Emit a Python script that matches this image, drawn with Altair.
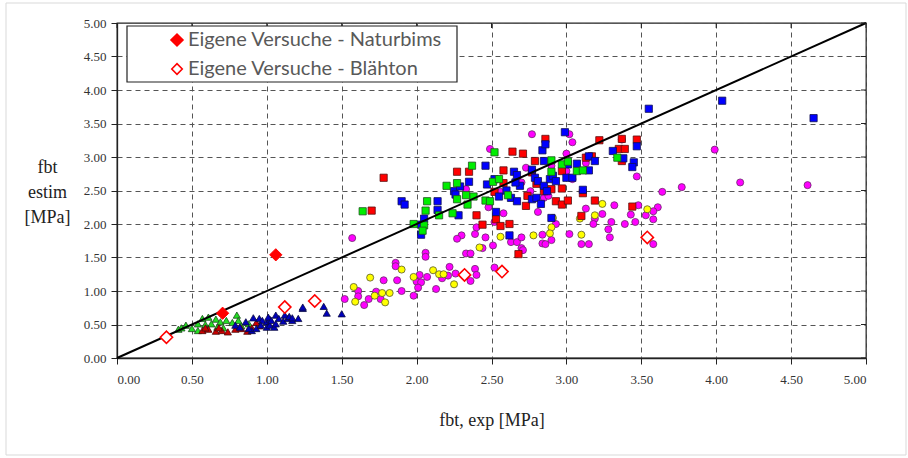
import altair as alt
import pandas as pd

# ---- Test series: fbt,exp (x) vs fbt,estim (y) in MPa ----
red_sq_x = [1.70, 1.78, 2.27, 2.35, 2.40, 2.44, 2.64, 2.71, 2.58, 2.58, 2.52, 2.53, 2.56, 2.62,
            2.74, 2.73, 2.77, 2.79, 2.80, 2.85, 2.86, 2.90, 2.97, 2.93, 2.97, 2.97, 2.68,
            3.22, 3.37, 3.35, 3.39, 3.47, 3.17, 3.13, 3.37, 3.11, 3.01, 3.19, 3.44, 3.10]
red_sq_y = [2.20, 2.69, 2.78, 2.78, 2.13, 1.99, 3.08, 3.05, 2.80, 2.61, 2.48, 2.07, 1.97, 2.00,
            2.42, 2.27, 2.77, 2.94, 2.60, 2.49, 3.27, 2.52, 2.53, 2.34, 2.29, 2.79, 1.55,
            3.25, 3.27, 3.12, 3.12, 3.26, 3.01, 2.99, 2.94, 2.46, 2.35, 2.35, 2.26, 2.12]

blue_sq_x = [1.90, 1.92, 2.05, 2.03, 2.14, 2.14, 2.25, 2.26, 2.29, 2.35, 2.28, 2.46, 2.47, 2.52,
             2.55, 2.53, 2.60, 2.63, 2.65, 2.67, 2.67, 2.69, 2.66, 2.77, 2.79, 2.77, 2.80, 2.83,
             2.84, 2.86, 2.85, 2.81, 2.85, 2.87, 2.89, 2.91, 2.93, 2.90, 2.03, 2.62,
             3.55, 4.04, 4.65, 2.99, 3.47, 3.31, 3.15, 3.19, 3.07, 3.01, 3.45, 3.44, 3.38,
             3.15, 3.00, 3.04, 3.11]
blue_sq_y = [2.34, 2.29, 2.08, 1.99, 2.34, 2.21, 2.49, 2.44, 2.56, 2.63, 2.13, 2.87, 2.59, 2.67,
             2.41, 2.18, 2.50, 2.39, 2.78, 2.73, 2.34, 2.57, 2.62, 2.81, 2.69, 2.37, 2.39, 2.30,
             3.10, 3.19, 2.94, 2.64, 2.57, 2.49, 2.67, 2.72, 2.64, 2.09, 1.84, 1.83,
             3.72, 3.84, 3.58, 3.37, 3.16, 3.09, 3.01, 2.94, 2.90, 2.89, 2.92, 2.85, 2.98,
             2.80, 2.69, 2.69, 2.51]

green_sq_x = [1.64, 1.98, 2.05, 2.06, 2.07, 2.15, 2.20, 2.24, 2.27, 2.27, 2.33, 2.34, 2.37, 2.38,
              2.46, 2.49, 2.51, 2.52, 2.55, 2.61, 2.90, 2.90, 2.97, 2.04,
              3.01, 3.07, 3.11, 3.34]
green_sq_y = [2.19, 2.00, 1.98, 2.20, 2.34, 2.13, 2.57, 2.16, 2.37, 2.61, 2.43, 2.29, 2.87, 2.41,
              2.35, 2.34, 2.63, 3.07, 2.67, 2.43, 2.95, 2.78, 2.89, 1.90,
              2.93, 2.79, 2.80, 2.99]

magenta_x = [2.77, 2.49, 2.90, 2.73, 2.70, 2.33, 2.48, 2.56, 2.76, 2.85, 2.88, 2.81, 2.58, 2.52,
             2.93, 1.57, 1.52, 1.86, 1.86, 1.78, 1.87, 1.61, 1.61, 1.73, 1.68, 1.76, 1.65, 1.90,
             1.98, 2.02, 2.00, 2.03, 2.01, 2.07, 2.06, 2.06, 2.13, 2.21, 2.22, 2.26, 2.17, 2.30,
             2.27, 2.39, 2.33, 2.36, 2.44, 2.39, 2.40, 2.36, 2.51, 2.52, 2.63, 2.67, 2.70, 2.70,
             2.71, 2.84, 2.86, 2.90, 2.46, 2.40, 2.84,
             3.02, 3.04, 3.37, 3.99, 3.00, 3.13, 3.00, 3.04, 3.47, 3.64, 3.77, 4.16, 4.61, 3.13,
             3.32, 3.48, 3.61, 3.58, 3.24, 3.19, 3.18, 3.43, 3.53, 3.58, 3.30, 3.39, 3.46, 3.28,
             3.02, 3.29, 3.10, 3.15, 3.58]
magenta_y = [3.34, 3.12, 2.87, 2.84, 2.62, 2.52, 2.25, 2.48, 2.49, 2.39, 2.42, 2.18, 2.16, 2.03,
             2.00, 1.79, 0.88, 1.42, 1.37, 1.16, 1.16, 1.00, 0.92, 0.99, 0.88, 0.88, 0.79, 1.00,
             0.93, 1.24, 1.14, 1.13, 1.05, 1.21, 1.57, 1.51, 1.03, 1.23, 1.36, 1.26, 1.19, 1.83,
             1.78, 1.85, 1.56, 1.56, 1.64, 1.33, 1.24, 1.15, 1.68, 1.35, 1.73, 1.73, 1.80, 1.64,
             1.61, 1.71, 1.70, 1.76, 1.80, 1.95, 1.84,
             3.34, 3.22, 3.26, 3.11, 3.05, 2.91, 2.79, 2.67, 2.71, 2.48, 2.55, 2.62, 2.58, 2.23,
             2.28, 2.28, 2.25, 2.19, 2.15, 2.08, 2.00, 2.14, 2.13, 2.07, 2.03, 2.00, 2.03, 1.92,
             1.85, 1.80, 1.70, 1.70, 1.70]

yellow_x = [2.91, 2.90, 1.69, 1.90, 1.58, 1.59, 1.72, 1.77, 1.82, 1.79, 1.98, 2.11, 2.15, 2.18,
            2.25, 2.56, 2.78, 2.89, 2.42, 3.24, 3.19, 3.09, 3.54, 3.10]
yellow_y = [2.09, 1.95, 1.20, 1.32, 1.06, 0.84, 0.93, 0.97, 0.97, 0.83, 1.21, 1.31, 1.25, 1.25,
            1.10, 1.81, 1.83, 1.86, 1.65, 2.30, 2.13, 2.08, 2.22, 1.84]

green_tri_x = [0.41, 0.43, 0.46, 0.57, 0.61, 0.66, 0.54, 0.59, 0.63, 0.69, 0.73, 0.80, 0.77, 0.54,
               0.60, 0.83, 0.88, 0.50, 0.67, 0.71, 0.81]
green_tri_y = [0.43, 0.45, 0.49, 0.59, 0.61, 0.58, 0.51, 0.50, 0.51, 0.54, 0.56, 0.64, 0.53, 0.41,
               0.44, 0.48, 0.51, 0.44, 0.46, 0.45, 0.56]

red_tri_x = [0.57, 0.61, 0.66, 0.70, 0.74, 0.79, 0.83, 0.68, 0.90, 0.95, 0.59, 0.87, 0.93]
red_tri_y = [0.41, 0.43, 0.40, 0.41, 0.39, 0.43, 0.44, 0.45, 0.45, 0.48, 0.45, 0.40, 0.53]

blue_tri_x = [0.79, 0.82, 0.86, 0.91, 0.90, 0.95, 0.97, 1.00, 1.02, 1.06, 1.08, 1.11, 1.14, 1.17,
              1.21, 1.24, 1.00, 1.02, 1.05, 0.93, 0.88, 0.96, 1.01, 1.03, 1.06, 1.12, 1.24, 1.38,
              1.40, 1.50, 1.15, 1.17]
blue_tri_y = [0.49, 0.46, 0.54, 0.60, 0.41, 0.59, 0.56, 0.54, 0.58, 0.64, 0.59, 0.55, 0.59, 0.56,
              0.59, 0.74, 0.46, 0.49, 0.46, 0.44, 0.44, 0.49, 0.61, 0.56, 0.51, 0.64, 0.76, 0.77,
              0.67, 0.66, 0.62, 0.60]

# Own tests
naturbims_x = [0.705, 1.06]
naturbims_y = [0.668, 1.54]
blaehton_x = [0.33, 1.12, 1.32, 2.32, 2.57, 3.54]
blaehton_y = [0.31, 0.76, 0.85, 1.24, 1.29, 1.80]

legend_labels = ["Eigene Versuche - Naturbims", "Eigene Versuche - Blähton"]
tick_values = [0.0, 0.5, 1.0, 1.5, 2.0, 2.5, 3.0, 3.5, 4.0, 4.5, 5.0]
line_x = [0.0, 5.0]
line_y = [0.0, 5.0]

W, H = 749, 335
SERIF = "Liberation Serif"

x_scale = alt.Scale(domain=[0, 5], nice=False, zero=False)
y_scale = alt.Scale(domain=[0, 5], nice=False, zero=False)

x_axis = alt.Axis(values=tick_values, format=".2f", title="fbt, exp [MPa]",
                  labelFont=SERIF, titleFont=SERIF,
                  tickSize=6, labelPadding=9, titleY=62, titleBaseline="middle")
y_axis = alt.Axis(values=tick_values, format=".2f", title=["fbt", "estim", "[MPa]"],
                  labelFont=SERIF, titleFont=SERIF,
                  tickSize=6, labelPadding=5, titleAngle=0, titleAlign="center",
                  titleBaseline="middle", titleX=-70, titleY=144, titleLineHeight=25)


def scatter(xs, ys, shape, fill, stroke, size, sw=0.8):
    df = pd.DataFrame({"x": xs, "y": ys})
    mark = alt.Chart(df).mark_point(shape=shape, filled=True, fill=fill, stroke=stroke,
                                    strokeWidth=sw, size=size, opacity=1)
    return mark.encode(x=alt.X("x:Q", scale=x_scale, axis=x_axis),
                       y=alt.Y("y:Q", scale=y_scale, axis=y_axis))


one = pd.DataFrame({"k": [0]})

# outer page border
border = alt.Chart(one).mark_rect(fill=None, stroke="#d9d9d9", strokeWidth=1).encode(
    x=alt.value(-111), x2=alt.value(789), y=alt.value(-20), y2=alt.value(432))

circles_m = scatter(magenta_x, magenta_y, "circle", "#ff00ff", "#6a2a6a", 50)
circles_y = scatter(yellow_x, yellow_y, "circle", "#ffff00", "#5a5a2a", 50)
sq_red = scatter(red_sq_x, red_sq_y, "square", "#ff0000", "#5a1010", 52)
sq_blue = scatter(blue_sq_x, blue_sq_y, "square", "#0000ff", "#101050", 52)
sq_green = scatter(green_sq_x, green_sq_y, "square", "#00ee00", "#205020", 52)
tri_green = scatter(green_tri_x, green_tri_y, "triangle-up", "#22dd22", "#1e4d1e", 52)
tri_red = scatter(red_tri_x, red_tri_y, "triangle-up", "#cc0000", "#4a0a0a", 52)
tri_blue = scatter(blue_tri_x, blue_tri_y, "triangle-up", "#0000bb", "#0a0a40", 52)

diag = alt.Chart(pd.DataFrame({"x": line_x, "y": line_y})).mark_line(
    color="black", strokeWidth=2).encode(
    x=alt.X("x:Q", scale=x_scale, axis=x_axis), y=alt.Y("y:Q", scale=y_scale, axis=y_axis))

dia_fill = scatter(naturbims_x, naturbims_y, "diamond", "#ff0000", "#ff0000", 150, sw=1)
dia_open = alt.Chart(pd.DataFrame({"x": blaehton_x, "y": blaehton_y})).mark_point(
    shape="diamond", filled=True, fill="white", stroke="#ff0000", strokeWidth=1.6, size=150,
    opacity=1).encode(x=alt.X("x:Q", scale=x_scale, axis=x_axis),
                      y=alt.Y("y:Q", scale=y_scale, axis=y_axis))

# inward tick marks on the top and right frame edges
ticks_df = pd.DataFrame({"v": tick_values, "edge": [5.0] * len(tick_values)})
top_ticks = alt.Chart(ticks_df).mark_point(shape="M0,0V1", filled=False, stroke="#222",
                                           strokeWidth=1, size=100, opacity=1).encode(
    x=alt.X("v:Q", scale=x_scale, axis=x_axis), y=alt.Y("edge:Q", scale=y_scale, axis=y_axis))
right_ticks = alt.Chart(ticks_df).mark_point(shape="M0,0H-1", filled=False, stroke="#222",
                                             strokeWidth=1, size=100, opacity=1).encode(
    x=alt.X("edge:Q", scale=x_scale, axis=x_axis), y=alt.Y("v:Q", scale=y_scale, axis=y_axis))

# legend box
leg_box = alt.Chart(one).mark_rect(fill="white", stroke="#222", strokeWidth=1.2).encode(
    x=alt.value(10), x2=alt.value(340), y=alt.value(3), y2=alt.value(59))
leg_m1 = alt.Chart(one).mark_point(shape="diamond", filled=True, fill="#ff0000", stroke="#ff0000",
                                   size=130, opacity=1).encode(x=alt.value(60), y=alt.value(17))
leg_m2 = alt.Chart(one).mark_point(shape="diamond", filled=True, fill="white", stroke="#ff0000",
                                   strokeWidth=1.6, size=110, opacity=1).encode(
    x=alt.value(60), y=alt.value(46))
leg_t1 = alt.Chart(one).mark_text(text=legend_labels[0], font="Lato", fontSize=20,
                                  color="#595959", align="left", baseline="middle").encode(
    x=alt.value(71), y=alt.value(17))
leg_t2 = alt.Chart(one).mark_text(text=legend_labels[1], font="Lato", fontSize=20,
                                  color="#595959", align="left", baseline="middle").encode(
    x=alt.value(71), y=alt.value(46))

chart = alt.layer(
    border, circles_m, circles_y, sq_red, sq_blue, sq_green, tri_green, tri_red, tri_blue,
    diag, dia_fill, dia_open, top_ticks, right_ticks,
    leg_box, leg_m1, leg_m2, leg_t1, leg_t2,
).properties(
    width=W, height=H,
    autosize=alt.AutoSizeParams(type="none"),
    padding={"left": 117, "top": 23, "right": 42, "bottom": 100},
    background="white",
).configure_view(
    stroke="#222", strokeWidth=1.3,
).configure_axis(
    domainColor="#222", domainWidth=1.3, tickColor="#222", tickWidth=1,
    grid=True, gridColor="#555", gridDash=[5, 4], gridWidth=1,
    labelFontSize=13, labelColor="#333",
    titleFontSize=18, titleFontWeight="normal", titleColor="#222",
)

chart.save("out.html", embed_options={"renderer": "svg", "actions": False})
